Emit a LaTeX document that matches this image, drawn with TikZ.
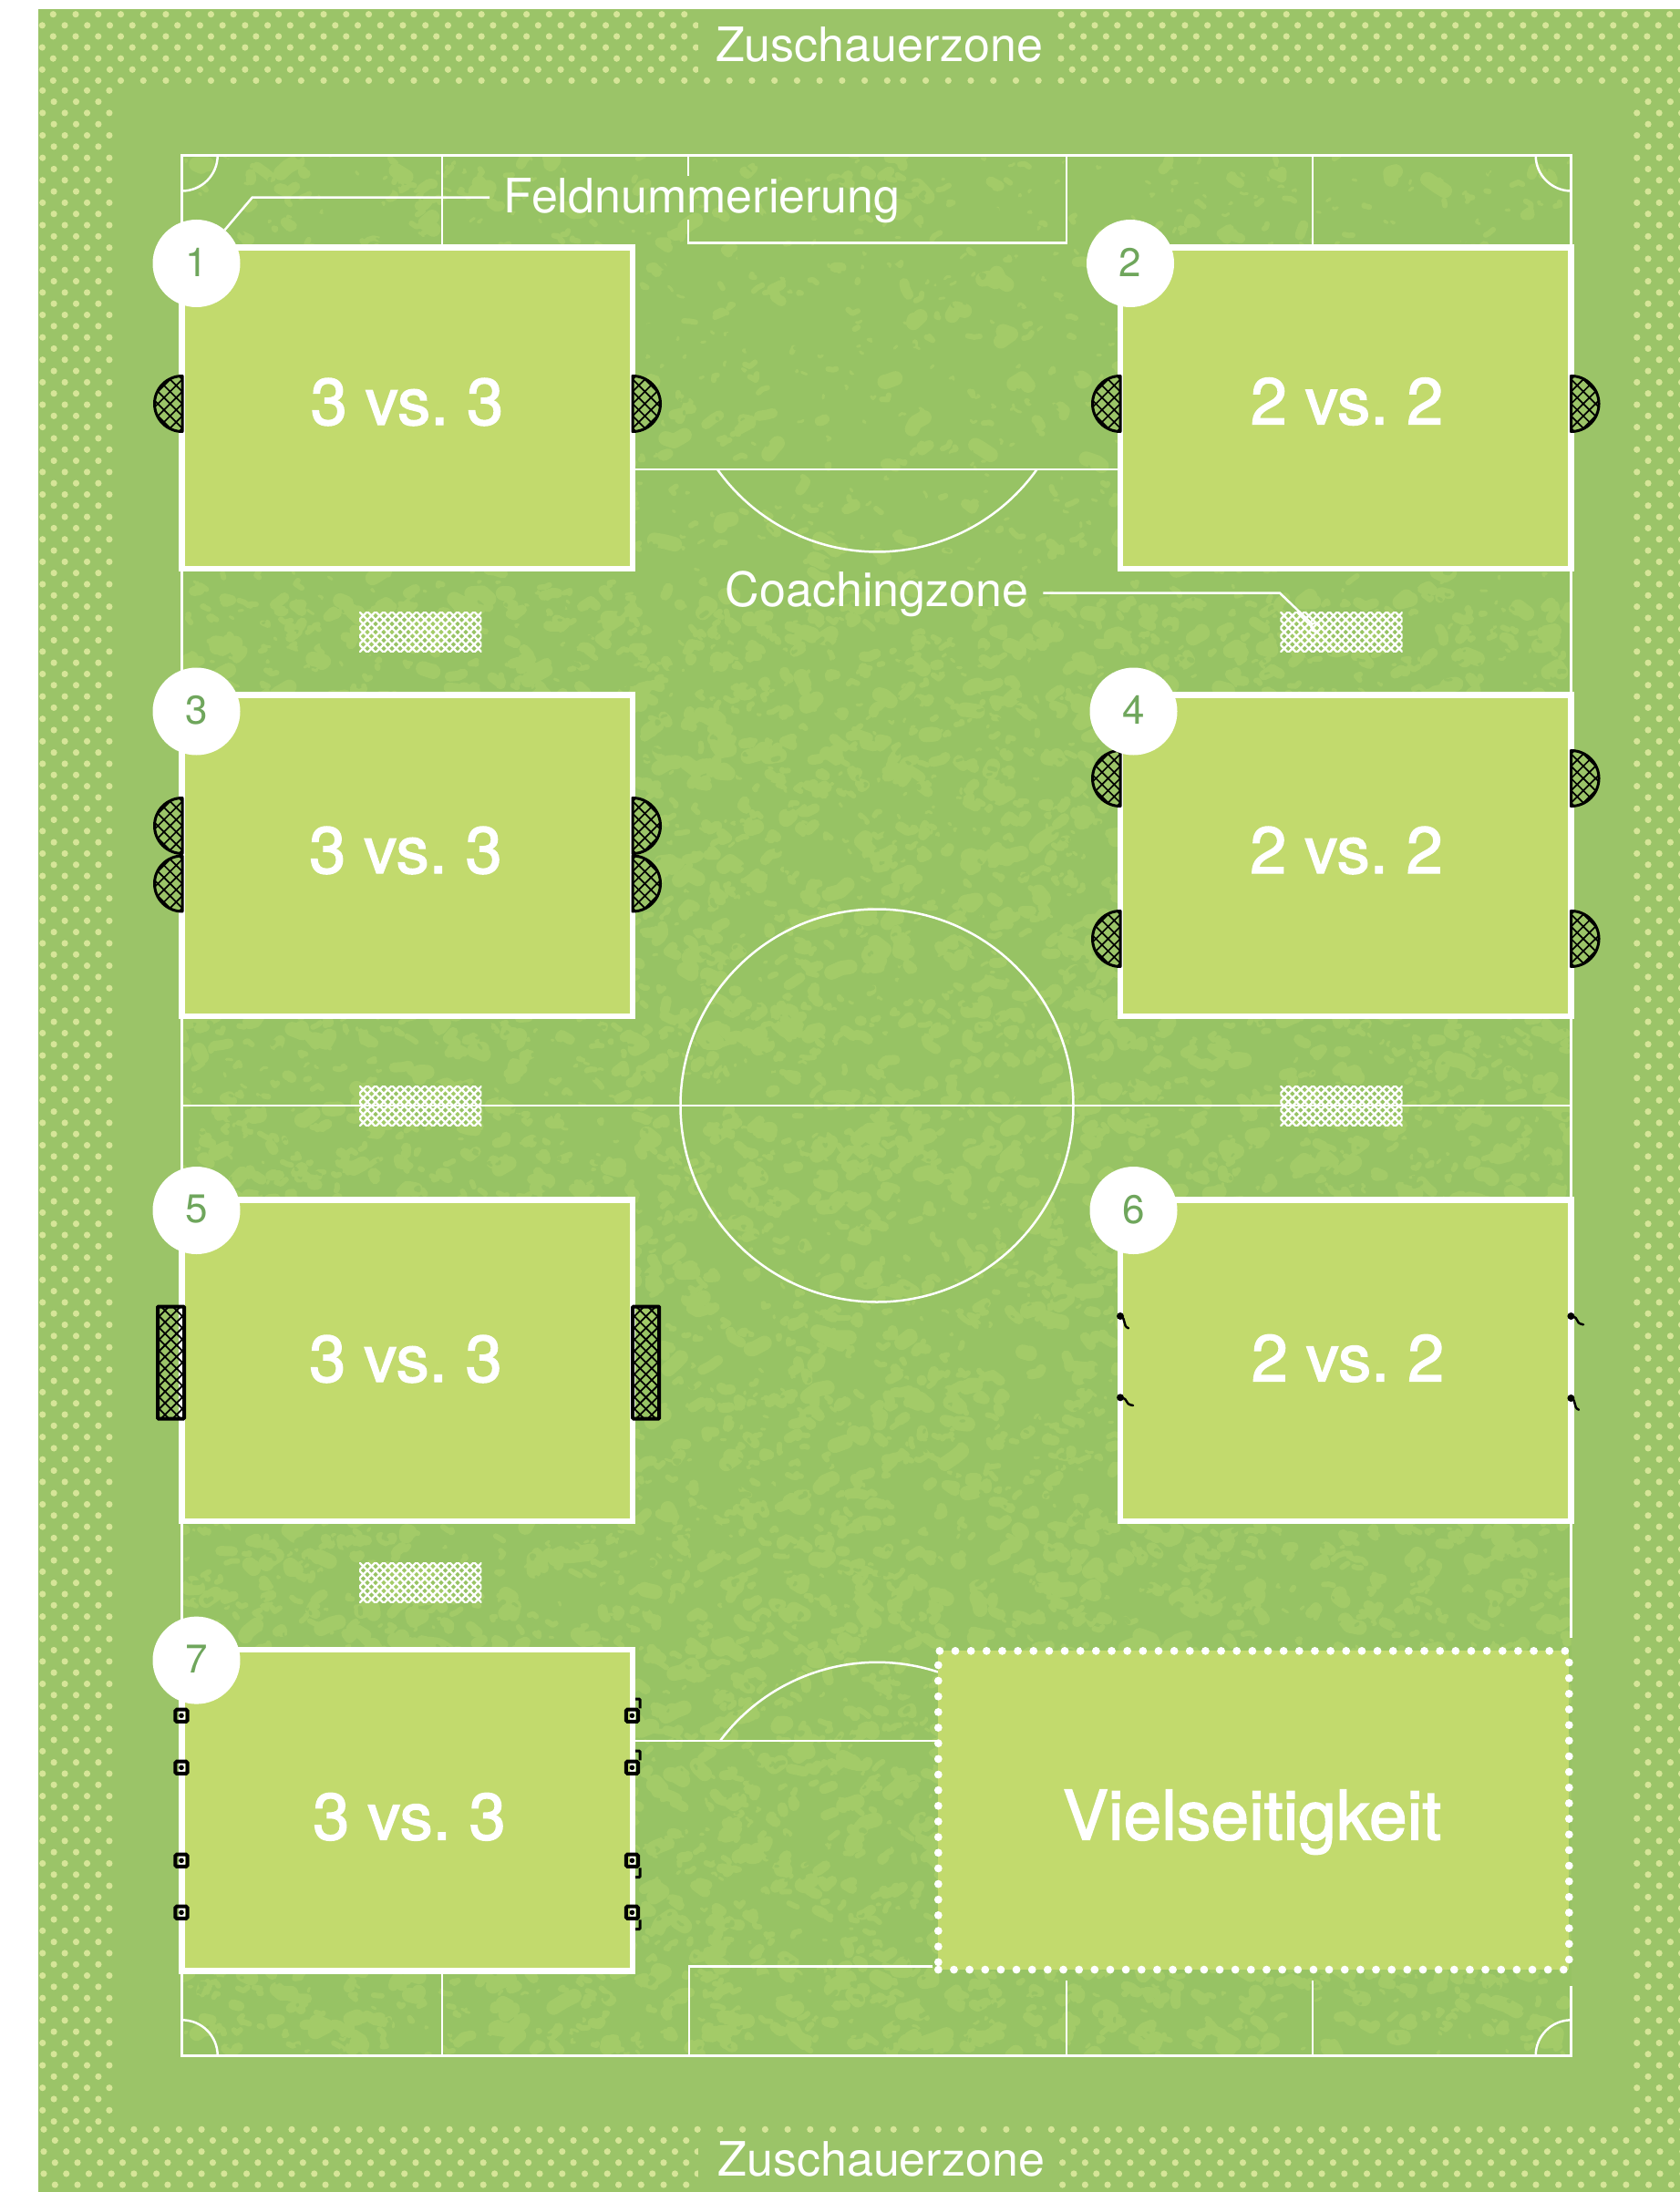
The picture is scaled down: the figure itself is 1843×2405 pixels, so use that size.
\documentclass[tikz,border=0pt]{standalone}
\usepackage{fontspec}
\setmainfont{TeX Gyre Heros}
\newfontfamily\mediumfont[FakeBold=2]{TeX Gyre Heros}
\definecolor{outergreen}{HTML}{9BC468}
\definecolor{pitchgreen}{HTML}{97C364}
\definecolor{blobgreen}{HTML}{A3CB68}
\definecolor{fieldgreen}{HTML}{C2DA6D}
\definecolor{dotgreen}{HTML}{D6E598}
\definecolor{numbergreen}{HTML}{6FA65C}
\tikzset{
pitchline/.style={white,line width=2.5},
leaderline/.style={white,line width=2.5},
dotrow/.style={dotgreen,line width=7.2,line cap=round,dash pattern=on 0pt off #1},
fieldbox/.style={draw=white,line width=6.5,fill=fieldgreen,minimum width=494.4pt,minimum height=352.5pt,inner sep=0pt,outer sep=0pt},
vielbox/.style={draw=white,line width=8.8,line cap=round,dash pattern=on 0pt off 17.15pt,fill=fieldgreen,minimum width=692pt,minimum height=349.7pt,inner sep=0pt,outer sep=0pt},
numbernode/.style={circle,fill=white,minimum size=96pt,inner sep=0pt,outer sep=0pt,text=numbergreen,text depth=3pt,font=\fontsize{44}{50}\selectfont},
vslabel/.style={anchor=base,text=white,inner sep=0pt,font=\mediumfont\fontsize{72}{80}\selectfont},
vielabel/.style={anchor=base,text=white,inner sep=0pt,font=\mediumfont\fontsize{75}{80}\selectfont},
zonelabel/.style={anchor=base,text=white,inner sep=0pt,font=\fontsize{52}{60}\selectfont},
ringmark/.style={circle,draw=white,line width=2,minimum size=10pt,inner sep=0pt,outer sep=0pt},
}
\newcommand{\halfgoal}[3]{
\begin{scope}[shift={(#1,#2)},xscale=#3]
\fill[outergreen] (0,-30.5) arc[start angle=-90,end angle=90,radius=30.5] -- cycle;
\begin{scope}
\clip (0,-30.5) arc[start angle=-90,end angle=90,radius=30.5] -- cycle;
\draw[black,line width=1.7] \foreach \d in {-67,-53.6,...,67} {(\d-40,-40) -- (\d+40,40) (\d-40,40) -- (\d+40,-40)};
\end{scope}
\draw[black,line width=3,line join=round] (0,-30.5) arc[start angle=-90,end angle=90,radius=30.5] -- cycle;
\end{scope}
}
\newcommand{\rectgoal}[1]{
\begin{scope}[shift={(#1,1495)}]
\begin{scope}
\clip (-14.5,-61.5) rectangle (14.5,61.5);
\draw[black,line width=1.8] \foreach \d in {-89,-76.3,...,89} {(\d-70,-70) -- (\d+70,70) (\d-70,70) -- (\d+70,-70)};
\end{scope}
\draw[black,line width=4,rounded corners=1] (-14.5,-61.5) rectangle (14.5,61.5);
\end{scope}
}
\newcommand{\benchbox}[2]{
\begin{scope}[shift={(#1,#2)}]
\clip (0,0) rectangle (134.4,44.7);
\draw[white,line width=2.3] \foreach \d in {-45,-36,...,180} {(\d,0) -- (\d+45,45) (\d+45,0) -- (\d,45)};
\end{scope}
}
\newcommand{\squaremark}[2]{
\draw[black,line width=4,rounded corners=1.5] (#1-6.6,#2-6.6) rectangle (#1+6.6,#2+6.6);
\fill[black] (#1,#2) circle (2.8);
}
\newcommand{\hookmark}[3]{
\draw[black,line width=3,rounded corners=1] (697,#2+#3*18.3) -- (#1,#2+#3*18.3) -- (#1,#2+#3*8);
}
\newcommand{\polemark}[4]{
\fill[black] (#1,#2) circle (4);
\draw[black,line width=2.5,line cap=round] (#1,#2) .. controls (#1+#3*0.8,#2+#4*0.2) and (#1+#3*0.2,#2+#4*0.8) .. (#1+#3,#2+#4);
}
\newcommand{\blobpath}[7]{
\draw[#1,line width=#2,line cap=round,line join=round] \foreach \i in {1,...,#3} {({200+1524*rnd},{#6+#7*rnd}) -- ++({#4*(rnd-0.5)},{#5*(rnd-0.5)}) -- ++({#4*(rnd-0.5)},{#5*(rnd-0.5)})};
}
\begin{document}
\begin{tikzpicture}[x=1pt,y=-1pt]
\useasboundingbox (0,0) rectangle (1843,2405);
\fill[white] (0,0) rectangle (1843,2405);
\fill[outergreen] (42,10) rectangle (1843,2405);
\foreach \j in {0,...,6} {
\draw[dotrow=24.73pt] ({58.3-12*mod(\j,2)},{15.7+12.12*\j}) -- ++(930,0);
\draw[dotrow=24.73pt] ({990.8-12.4*mod(\j,2)},{15.7+12.12*\j}) -- (1850,{15.7+12.12*\j});
}
\foreach \j in {0,...,5} {
\draw[dotrow=24.73pt] ({48+12.3*mod(\j,2)},{2336.3+12.15*\j}) -- ++(930,0);
\draw[dotrow=24.73pt] ({980.2+12.3*mod(\j,2)},{2336.3+12.15*\j}) -- (1850,{2336.3+12.15*\j});
}
\fill[outergreen] (766,10) rectangle (1160,82);
\fill[outergreen] (766,2343) rectangle (1160,2405);
\foreach \i in {0,...,90} {
\draw[dotrow=24.4pt] (46.7,{99.3+24.622*\i}) -- ++(75,0);
\draw[dotrow=24.4pt] (1795.7,{99.3+24.622*\i}) -- ++(55,0);
}
\foreach \i in {0,...,90} {
\draw[dotrow=24.4pt] (59.1,{111.6+24.622*\i}) -- ++(50,0);
\draw[dotrow=24.4pt] (1808,{111.6+24.622*\i}) -- ++(26,0);
}
\begin{scope}
\clip (199.7,170.5) rectangle (1723.7,2255.3);
\fill[pitchgreen] (199.7,170.5) rectangle (1723.7,2255.3);
\pgfmathsetseed{42}
\blobpath{blobgreen}{16}{300}{26}{16}{170}{2086}
\blobpath{blobgreen}{16}{500}{26}{16}{650}{1600}
\blobpath{blobgreen}{11}{600}{20}{14}{170}{2086}
\blobpath{blobgreen}{11}{800}{20}{14}{650}{1600}
\blobpath{blobgreen}{11}{800}{20}{14}{650}{1600}
\blobpath{blobgreen}{6}{800}{14}{10}{170}{2086}
\blobpath{blobgreen}{6}{800}{14}{10}{170}{2086}
\blobpath{blobgreen}{6}{800}{14}{10}{650}{1600}
\blobpath{blobgreen}{6}{800}{14}{10}{650}{1600}
\blobpath{blobgreen}{3}{800}{8}{6}{170}{2086}
\blobpath{blobgreen}{3}{800}{8}{6}{170}{2086}
\blobpath{blobgreen}{3}{800}{8}{6}{170}{2086}
\blobpath{pitchgreen}{5}{800}{12}{8}{170}{2086}
\blobpath{pitchgreen}{3}{800}{8}{6}{170}{2086}
\blobpath{pitchgreen}{3}{800}{8}{6}{170}{2086}
\blobpath{pitchgreen}{2}{800}{6}{5}{170}{2086}
\end{scope}
\draw[pitchline] (1723.7,1797) -- (1723.7,170.5) -- (199.7,170.5) -- (199.7,2255.3) -- (1723.7,2255.3) -- (1723.7,2179);
\draw[pitchline] (238.7,170.5) arc[start angle=0,end angle=90,radius=39];
\draw[pitchline] (1684.7,170.5) arc[start angle=180,end angle=90,radius=39];
\draw[pitchline] (238.7,2255.3) arc[start angle=0,end angle=-90,radius=39];
\draw[pitchline] (1684.7,2255.3) arc[start angle=180,end angle=270,radius=39];
\draw[pitchline] (485,170.5) -- (485,271);
\draw[pitchline] (1440,170.5) -- (1440,271);
\draw[pitchline] (755,170.5) -- (755,193);
\draw[pitchline] (755,241) -- (755,266.5) -- (1170,266.5) -- (1170,170.5);
\draw[pitchline] (694,515) -- (1229,515);
\draw[pitchline] (787,515) arc[start angle=144.6,end angle=35.4,radius=215];
\draw[pitchline] (199.7,1213) -- (1723.7,1213);
\draw[pitchline] (962,1213) circle (215.5);
\draw[pitchline] (694,1910) -- (1029,1910);
\draw[pitchline] (790,1910) arc[start angle=216.8,end angle=288.1,radius=215];
\draw[pitchline] (485,2162) -- (485,2255.3);
\draw[pitchline] (756,2255.3) -- (756,2157.7) -- (1022.7,2157.7);
\draw[pitchline] (1170,2173) -- (1170,2255.3);
\draw[pitchline] (1440,2173) -- (1440,2255.3);
\foreach \x/\y in {394/671,1404.3/671,394/1191,1404.3/1191,394/1714} \benchbox{\x}{\y}
\foreach \n/\x/\y in {1/446.85/447.75,2/1476.25/447.75,3/446.85/938.5,4/1476.25/938.5,5/446.85/1492.5,6/1476.25/1492.5,7/446.85/1986} \node[fieldbox] (f\n) at (\x,\y) {};
\node[vielbox] (fv) at (1375.3,1986.2) {};
\foreach \y in {443,906,969.5} {
\halfgoal{200}{\y}{-1}
\halfgoal{694}{\y}{1}
}
\foreach \y in {443,854,1030} {
\halfgoal{1229}{\y}{-1}
\halfgoal{1723.5}{\y}{1}
}
\rectgoal{187.5}
\rectgoal{708.7}
\polemark{1229}{1444}{9}{13.3}
\polemark{1229}{1533.3}{14}{8.7}
\polemark{1723.4}{1444}{13.6}{9.3}
\polemark{1723.4}{1534}{8.6}{12.7}
\foreach \y in {1882.3,1939.3,2041.3,2098.3} {
\squaremark{199}{\y}
\squaremark{693.4}{\y}
}
\hookmark{702}{1882.3}{-1}
\hookmark{702}{1939.3}{-1}
\hookmark{702}{2041.3}{1}
\hookmark{702}{2098.3}{1}
\node[vslabel] (v1) at (446.5,466) {3 vs.\ 3};
\node[vslabel] (v2) at (1477.5,465.5) {2 vs.\ 2};
\node[vslabel] (v3) at (445,958) {3 vs.\ 3};
\node[vslabel] (v4) at (1477,958) {2 vs.\ 2};
\node[vslabel] (v5) at (445,1516) {3 vs.\ 3};
\node[vslabel] (v6) at (1478.5,1515.3) {2 vs.\ 2};
\node[vslabel] (v7) at (449,2018.3) {3 vs.\ 3};
\node[vielabel] (vv) at (1373.5,2018.3) {Vielseitigkeit};
\node[zonelabel] (ztop) at (964.5,67.5) {Zuschauerzone};
\node[zonelabel] (zbottom) at (967,2387.3) {Zuschauerzone};
\node[numbernode] (n1) at (215.5,289) {1};
\node[numbernode] (n2) at (1240,289) {2};
\node[numbernode] (n3) at (215.5,780.5) {3};
\node[numbernode] (n4) at (1243.5,780.5) {4};
\node[numbernode] (n5) at (215.5,1328) {5};
\node[numbernode] (n6) at (1243.5,1328) {6};
\node[numbernode] (n7) at (215.5,1821.6) {7};
\node[zonelabel] (feld) at (770,234) {Feldnummerierung};
\node[zonelabel] (coach) at (962,665) {Coachingzone};
\node[ringmark] (cz) at (1443.3,688.3) {};
\coordinate (feldbend) at (276.7,216.7);
\coordinate (feldend) at (537,216.7);
\coordinate (coachstart) at (1144.3,650.7);
\coordinate (coachbend) at (1404,650.7);
\draw[leaderline] (n1) -- (feldbend) -- (feldend);
\draw[leaderline] (coachstart) -- (coachbend) -- (cz);
\end{tikzpicture}
\end{document}
